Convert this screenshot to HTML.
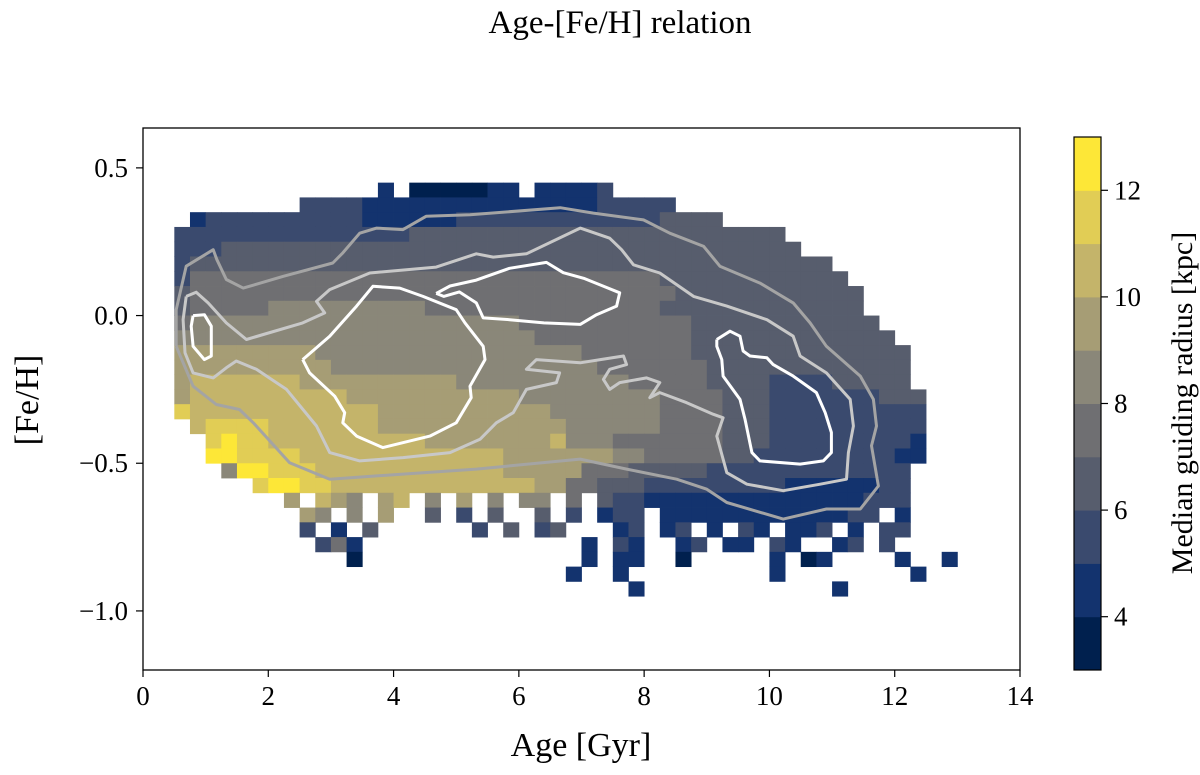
<!DOCTYPE html>
<html><head><meta charset="utf-8"><style>
html,body{margin:0;padding:0;background:#fff;}
svg{display:block;font-family:"Liberation Serif",serif;}
</style></head><body>
<svg id="chart" width="1200" height="775" viewBox="0 0 1200 775">
<text x="620" y="33" font-size="33" text-anchor="middle">Age-[Fe/H] relation</text>
<g id="cells"></g>
<g id="contours"></g>
<rect x="143" y="128" width="877" height="542" fill="none" stroke="#000" stroke-width="1.3"/>
<g id="axes"></g>
<text x="581" y="756" font-size="34" text-anchor="middle">Age [Gyr]</text>
<text transform="translate(38,400) rotate(-90)" font-size="34" text-anchor="middle">[Fe/H]</text>
<g id="cbar"></g>
<text transform="translate(1192,403) rotate(-90)" font-size="30" text-anchor="middle">Median guiding radius [kpc]</text>
</svg>
<script>
// ---- data ----
const xTicks = [0,2,4,6,8,10,12,14];
const yTicks = [0.5,0.0,-0.5,-1.0];
const yTickLabels = ["0.5","0.0","\u22120.5","\u22121.0"];
const cbTicks = [4,6,8,10,12];
const levelValues = [3,4,5,6,7,8,9,10,11,12];
const levelColors = ["#00204e","#13336e","#3a4a6e","#575d6d","#6f6f72","#8a8779","#a69d75","#c4b46a","#e1cd55","#fde737"];
const levelCodes = ["3","4","5","6","7","8","9","a","b","c"];
const ageStart = 0.5, ageStep = 0.25, fehTop = 0.45, fehStep = 0.05;
// run-length encoded median radius level per row (top row first)
const gridRows = [
"13*. 4 . 5*3 4 4 . 4*4 5",
"8*. 4*5 15*4 5*5",
"1*. 4 10*5 6*4 13*5 4*6",
"15*5 24*6",
"3*5 37*6",
"5 41*6",
"5 30*7 12*6",
"6 31*7 12*6",
"6 5*7 10*8 15*7 13*6",
"7 21*8 11*7 12*6",
"23*8 10*7 13*6",
"9*9 17*8 7*7 14*6",
"10*9 17*8 7*7 13*6",
"9 7*a 10*9 11*8 5*7 4*6 4*5 5*6",
"9 10*a 11*9 9*8 4*7 3*6 7*5 3*6",
"b 12*a 11*9 7*8 4*7 3*6 10*5",
". a 4*b 7*a 12*9 6*8 4*7 3*6 10*5",
"2*. b c 2*b 10*a 8*9 a 3*8 7*7 3*6 9*5 4",
"2*. 2*c 4*b 13*a 7*9 2*8 5*7 2*6 9*5 2*4",
"3*. 8 2*c 3*b 12*a 5*9 3*7 5*6 13*5",
"5*. b 2*c 2*b 13*a 2*9 2*7 3*6 9*5 6*4 2*5",
"7*. 9 . a 9 8 . 9 a . 8 . 9 . 8 . 8 8 . 7 . 6 2*5 14*4 3*5",
"8*. 9 8 . 8 . 9 . . 6 . 5 . 6 . . 6 . 5 . 4 5 5 . 12*4 5 5 . 4",
"8*. 5 . 4 . 6 . . . . . . 5 . 6 . 5 6 . . . 4 5 . 4 5 . 4 . 5 4 . 4 4 5 . 4 . 5 5",
"9*. 5 7 4 . . . . . . . . . . . . . . 4 . 5 4 . . 4 5 . 4 4 . 5 4 . . 4 5 . 5",
"11*. 3 . . . . . . . . . . . . . . 4 . 4 4 . . 3 . . . . . 4 . 3 4 . . . . 4 . . 4",
"25*. 4 . . 4 . . . . . . . . . 4 . . . . . . . . 4",
"29*. 4 . . . . . . . . . . . . 4"
];
// contours: [age, feh]
const contourOuter = [[0.53,-0.104],[0.53,0.02],[0.69,0.167],[1.12,0.223],[1.18,0.189],[1.33,0.122],[1.6,0.093],[2.24,0.133],[3.03,0.178],[3.19,0.212],[3.46,0.279],[3.73,0.296],[4.15,0.291],[4.52,0.336],[5.22,0.341],[6.66,0.365],[7.19,0.347],[7.99,0.324],[8.41,0.279],[8.95,0.234],[9.21,0.167],[9.85,0.11],[10.38,0.043],[10.65,-0.025],[10.91,-0.104],[11.45,-0.205],[11.66,-0.284],[11.71,-0.374],[11.63,-0.441],[11.74,-0.577],[11.45,-0.655],[10.91,-0.655],[10.22,-0.689],[9.32,-0.633],[9.0,-0.588],[8.52,-0.554],[7.72,-0.52],[6.98,-0.486],[5.32,-0.52],[3.73,-0.543],[2.98,-0.554],[2.34,-0.498],[1.76,-0.363],[1.54,-0.318],[1.17,-0.301],[0.8,-0.239],[0.53,-0.104]];
const contourMiddle = [[0.69,0.065],[0.85,0.079],[1.04,0.043],[1.33,-0.025],[1.65,-0.081],[1.92,-0.064],[2.55,-0.025],[2.9,0.009],[2.77,0.048],[2.98,0.088],[3.62,0.144],[4.68,0.164],[5.32,0.209],[5.59,0.198],[6.12,0.209],[6.98,0.296],[7.45,0.262],[7.64,0.223],[7.83,0.172],[8.25,0.144],[8.79,0.065],[9.32,0.032],[9.96,-0.014],[10.38,-0.07],[10.49,-0.137],[10.91,-0.194],[11.29,-0.284],[11.34,-0.374],[11.26,-0.464],[11.23,-0.554],[10.81,-0.571],[10.22,-0.593],[9.64,-0.571],[9.32,-0.532],[9.16,-0.408],[9.26,-0.346],[9.1,-0.334],[8.68,-0.295],[8.25,-0.261],[8.09,-0.278],[8.25,-0.227],[8.04,-0.211],[7.61,-0.227],[7.45,-0.25],[7.35,-0.216],[7.45,-0.182],[7.72,-0.166],[7.67,-0.137],[7.3,-0.149],[6.98,-0.16],[6.28,-0.149],[6.12,-0.182],[6.65,-0.194],[6.6,-0.227],[6.12,-0.25],[5.91,-0.329],[5.64,-0.363],[5.38,-0.419],[4.9,-0.464],[4.15,-0.481],[3.46,-0.492],[2.98,-0.464],[2.77,-0.374],[2.29,-0.25],[1.81,-0.182],[1.49,-0.154],[1.33,-0.177],[1.12,-0.211],[0.8,-0.194],[0.67,-0.126],[0.64,-0.014],[0.69,0.065]];
const contourInnerA = [[0.8,0.0],[0.98,0.003],[1.09,-0.036],[1.09,-0.137],[0.98,-0.149],[0.8,-0.104],[0.77,-0.036],[0.8,0.0]];
const contourInnerB = [[2.55,-0.149],[2.98,-0.07],[3.41,0.032],[3.67,0.099],[4.1,0.093],[4.47,0.065],[5.0,0.02],[5.14,-0.025],[5.43,-0.104],[5.46,-0.149],[5.22,-0.239],[5.24,-0.278],[5.0,-0.363],[4.58,-0.408],[3.83,-0.447],[3.41,-0.408],[3.19,-0.363],[3.22,-0.329],[3.06,-0.273],[2.66,-0.194],[2.55,-0.149]];
const contourInnerC = [[4.68,0.075],[4.9,0.1],[5.32,0.12],[5.85,0.16],[6.44,0.18],[6.71,0.145],[7.05,0.125],[7.4,0.095],[7.61,0.077],[7.56,0.032],[7.24,0.003],[6.98,-0.03],[6.4,-0.025],[5.85,-0.014],[5.43,-0.008],[5.32,0.043],[5.05,0.08],[4.8,0.065],[4.68,0.075]];
const contourInnerD = [[9.16,-0.081],[9.37,-0.053],[9.53,-0.07],[9.58,-0.12],[9.69,-0.137],[9.96,-0.143],[10.06,-0.166],[10.38,-0.205],[10.75,-0.261],[10.89,-0.329],[10.99,-0.396],[10.99,-0.464],[10.86,-0.492],[10.49,-0.503],[9.85,-0.492],[9.72,-0.464],[9.61,-0.351],[9.53,-0.284],[9.26,-0.205],[9.24,-0.149],[9.16,-0.104],[9.16,-0.081]];

// ---- axes ----
const NS = "http://www.w3.org/2000/svg";
const X = a => 143 + a/14*877;
const Y = f => 670 - (f+1.2)/1.835*542;
const CY = v => 670 - (v-3)/10*533;
function mk(tag, attrs, parent){const e=document.createElementNS(NS,tag);for(const k in attrs)e.setAttribute(k,attrs[k]);parent.appendChild(e);return e;}

function decodeRow(s){let out=[];s.split(" ").forEach(t=>{if(t.includes("*")){const [n,c]=t.split("*");for(let i=0;i<+n;i++)out.push(c);}else out.push(t);});return out;}
const cells = document.getElementById("cells");
gridRows.forEach((row,r)=>{
  decodeRow(row).forEach((c,i)=>{
    const li = levelCodes.indexOf(c);
    if(li<0) return;
    const a0 = ageStart + i*ageStep, f0 = fehTop - r*fehStep;
    const x0 = X(a0), x1 = X(a0+ageStep), y0 = Y(f0), y1 = Y(f0-fehStep);
    const e = mk("rect",{x:x0.toFixed(2),y:y0.toFixed(2),width:(x1-x0+0.4).toFixed(2),height:(y1-y0+0.4).toFixed(2),fill:levelColors[li]},cells);
    
    
  });
});

const cg = document.getElementById("contours");
[[contourOuter,"#a4a4a4","contour-outer"],[contourMiddle,"#c8c8c8","contour-middle"],[contourInnerA,"#ffffff","contour-inner-left"],[contourInnerB,"#ffffff","contour-inner-center"],[contourInnerC,"#ffffff","contour-inner-upper"],[contourInnerD,"#ffffff","contour-inner-right"]].forEach(([pts,col,name])=>{
  const d = pts.map((p,i)=>(i?"L":"M")+X(p[0]).toFixed(1)+","+Y(p[1]).toFixed(1)).join(" ");
  const e = mk("path",{d:d,fill:"none",stroke:col,"stroke-width":3,"stroke-linejoin":"round"},cg);
  
  
});

const ax = document.getElementById("axes");
xTicks.forEach(t=>{
  const l = mk("line",{x1:X(t),x2:X(t),y1:670,y2:677,stroke:"#000","stroke-width":1.2},ax);
  
  
  const tx = mk("text",{x:X(t),y:705,"font-size":27,"text-anchor":"middle"},ax);
  tx.textContent = t;
  
  
});
yTicks.forEach((t,i)=>{
  const l = mk("line",{x1:136,x2:143,y1:Y(t),y2:Y(t),stroke:"#000","stroke-width":1.2},ax);
  
  
  const tx = mk("text",{x:128,y:Y(t)+9,"font-size":27,"text-anchor":"end"},ax);
  tx.textContent = yTickLabels[i];
  
  
});

const cb = document.getElementById("cbar");
levelValues.forEach((v,i)=>{
  const e = mk("rect",{x:1074,y:CY(v+1).toFixed(2),width:27,height:(CY(v)-CY(v+1)+0.5).toFixed(2),fill:levelColors[i]},cb);
  
  
});
const fr = mk("rect",{x:1074,y:CY(13),width:27,height:CY(3)-CY(13),fill:"none",stroke:"#000","stroke-width":1.2},cb);


cbTicks.forEach(t=>{
  const l = mk("line",{x1:1101,x2:1108,y1:CY(t),y2:CY(t),stroke:"#000","stroke-width":1.2},cb);
  
  
  const tx = mk("text",{x:1114,y:CY(t)+9,"font-size":27},cb);
  tx.textContent = t;
  
  
});
</script>
</body></html>
